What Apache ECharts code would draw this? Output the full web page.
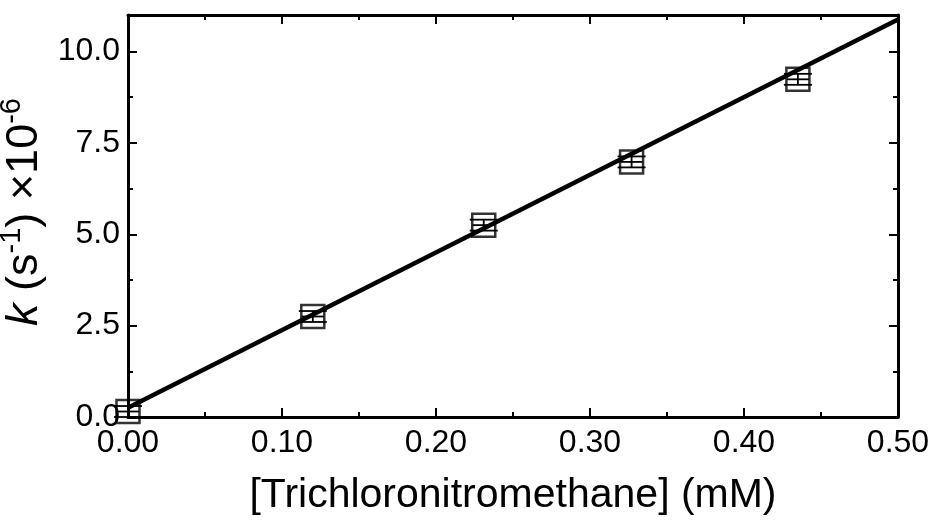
<!DOCTYPE html>
<html>
<head>
<meta charset="utf-8">
<script src="https://cdn.jsdelivr.net/npm/echarts@6/dist/echarts.min.js"></script>
<style>
  html, body { margin: 0; padding: 0; background: #fff; }
  #chart { width: 939px; height: 525px; }
</style>
</head>
<body>
<div id="chart"></div>
<script>
// measured points (concentration in mM, rate constant x1e-6 s^-1, y error)
const conc = [0.0, 0.120, 0.231, 0.327, 0.435];
const rate = [0.15, 2.75, 5.25, 6.98, 9.24];
const rateErr = [0.15, 0.15, 0.15, 0.15, 0.15];
// linear fit line, end points
const fitX = [0.0, 0.5];
const fitY = [0.25, 10.88];

const xTicks = { min: 0, max: 0.5, interval: 0.1 };
const yTicks = { min: 0, max: 11, interval: 2.5 };

const font = 'Liberation Sans, Arial, Helvetica, sans-serif';

const chart = echarts.init(document.getElementById('chart'));

const points = conc.map((x, i) => [x, rate[i], rateErr[i]]);
const fitLine = fitX.map((x, i) => [x, fitY[i]]);

const axisLine = { show: true, onZero: false, lineStyle: { color: '#000', width: 3 } };
const tick = { show: true, inside: true, length: 9, lineStyle: { color: '#000', width: 2 } };
const minor = { show: true, splitNumber: 2, length: 5, lineStyle: { color: '#000', width: 2 } };

const option = {
  animation: false,
  grid: { left: 128, right: 41, top: 15, bottom: 108, containLabel: false, outerBoundsMode: 'none' },
  xAxis: [
    {
      type: 'value', position: 'bottom',
      min: xTicks.min, max: xTicks.max, interval: xTicks.interval,
      axisLine: axisLine, axisTick: tick, minorTick: minor,
      splitLine: { show: false },
      axisLabel: {
        color: '#000', fontFamily: font, fontSize: 32, margin: 10,
        formatter: v => v.toFixed(2)
      },
      name: '[Trichloronitromethane] (mM)',
      nameLocation: 'middle', nameGap: 58,
      nameTextStyle: { color: '#000', fontFamily: font, fontSize: 41 }
    },
    {
      type: 'value', position: 'top',
      min: xTicks.min, max: xTicks.max, interval: xTicks.interval,
      axisLine: axisLine, axisTick: tick, minorTick: minor,
      splitLine: { show: false }, axisLabel: { show: false }
    }
  ],
  yAxis: [
    {
      type: 'value', position: 'left',
      min: yTicks.min, max: yTicks.max, interval: yTicks.interval,
      axisLine: axisLine, axisTick: tick, minorTick: minor,
      splitLine: { show: false },
      axisLabel: {
        color: '#000', fontFamily: font, fontSize: 32, margin: 8,
        showMaxLabel: false,
        formatter: v => v.toFixed(1)
      },
      name: '{k|k} (s{sup|-1}) ×10{sup|-6}',
      nameLocation: 'middle', nameGap: 54, nameRotate: 90,
      nameTextStyle: {
        color: '#000', fontFamily: font, fontSize: 45,
        padding: [0, 0, 0, 8],
        rich: {
          k: { fontFamily: font, fontSize: 45, fontStyle: 'italic', color: '#000' },
          sup: { fontFamily: font, fontSize: 29, color: '#000', verticalAlign: 'top', padding: [0, 0, 24, 0] }
        }
      }
    },
    {
      type: 'value', position: 'right',
      min: yTicks.min, max: yTicks.max, interval: yTicks.interval,
      axisLine: axisLine, axisTick: tick, minorTick: minor,
      splitLine: { show: false }, axisLabel: { show: false }
    }
  ],
  series: [
    {
      type: 'custom',
      xAxisIndex: 0, yAxisIndex: 0,
      data: points,
      z: 3,
      renderItem: (params, api) => {
        const x = api.value(0), y = api.value(1), e = api.value(2);
        const top = api.coord([x, y + e]);
        const bot = api.coord([x, y - e]);
        const c = api.coord([x, y]);
        const half = 14;
        const st = { stroke: '#000', lineWidth: 1.8 };
        return {
          type: 'group',
          children: [
            { type: 'line', shape: { x1: top[0], y1: top[1], x2: bot[0], y2: bot[1] }, style: st },
            { type: 'line', shape: { x1: top[0] - half, y1: top[1], x2: top[0] + half, y2: top[1] }, style: st },
            { type: 'line', shape: { x1: bot[0] - half, y1: bot[1], x2: bot[0] + half, y2: bot[1] }, style: st },
            { type: 'line', shape: { x1: c[0] - 11, y1: c[1], x2: c[0] + 11, y2: c[1] }, style: st }
          ]
        };
      }
    },
    {
      type: 'scatter',
      data: points.map(p => [p[0], p[1]]),
      symbol: 'rect',
      symbolSize: 23,
      itemStyle: { color: 'rgba(0,0,0,0)', borderColor: '#000', borderWidth: 2.5 },
      z: 4
    },
    {
      type: 'line',
      data: fitLine,
      showSymbol: false,
      lineStyle: { color: '#000', width: 4.5 },
      z: 5
    }
  ]
};

chart.setOption(option);
</script>
</body>
</html>
